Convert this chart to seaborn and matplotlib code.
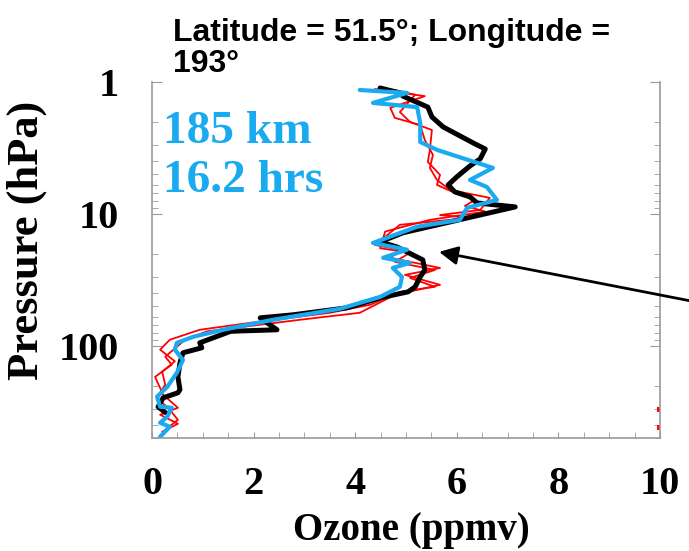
import numpy as np
import pandas as pd
import matplotlib
matplotlib.use('Agg')
import matplotlib.pyplot as plt
import matplotlib.ticker as mticker
import seaborn as sns

# ozone profiles (ppmv) against pressure (hPa)
black_p = [1.11, 1.21, 1.28, 1.55, 1.84, 2.19, 2.95, 3.22, 3.83, 4.33, 5.24, 6.03,
           6.81, 7.43, 8.26, 8.85, 13.9, 16.3, 17.8, 22.3, 26.6, 30.0, 35.7, 39.0,
           43.3, 51.5, 58.2, 61.4, 75.6, 77.6, 94.9, 103.5, 113, 135, 172, 215,
           227, 248, 290, 320]
black_o3 = [4.49, 4.88, 4.94, 5.43, 5.51, 5.73, 6.36, 6.56, 6.46, 6.26, 6.00, 5.83,
            5.96, 6.26, 6.40, 7.15, 4.94, 4.49, 4.82, 5.33, 5.37, 5.28, 5.18, 5.04,
            4.49, 3.84, 2.78, 2.13, 2.46, 1.55, 0.94, 0.98, 0.61, 0.55, 0.51, 0.55,
            0.51, 0.22, 0.12, 0.26]

blue_p = [1.15, 1.21, 1.44, 1.55, 2.05, 2.85, 3.27, 4.48, 5.53, 6.24, 7.83, 9.01,
          11.1, 12.5, 16.6, 18.7, 21.5, 23.5, 25.7, 30.0, 35.7, 42.6, 52.4, 63.5,
          75.6, 85.5, 94.9, 107, 128, 160, 205, 243, 290, 295, 345, 383, 411, 489]
blue_o3 = [4.09, 5.02, 4.35, 5.22, 5.28, 5.28, 5.61, 6.71, 6.26, 6.59, 6.79, 6.20,
           6.06, 5.22, 4.35, 5.02, 4.55, 5.08, 4.74, 4.92, 4.88, 4.49, 3.70, 2.38,
           1.40, 0.81, 0.49, 0.45, 0.61, 0.49, 0.30, 0.10, 0.16, 0.39, 0.30, 0.16,
           0.35, 0.16]

red1_p = [1.13, 1.28, 1.57, 1.87, 2.12, 2.75, 3.57, 4.48, 5.53, 6.58, 7.56, 9.33,
          10.2, 10.7, 12.1, 17.2, 18.7, 21.5, 25.7, 29.0, 34.5, 41.1, 56.2, 63.5,
          77.7, 90.1, 121, 139, 172, 235, 295, 333, 390, 448]
red1_o3 = [4.39, 5.37, 4.69, 4.78, 5.28, 5.37, 5.53, 5.47, 5.61, 5.87, 6.65, 6.46,
           5.67, 6.26, 4.88, 4.39, 4.88, 4.69, 5.67, 4.98, 5.67, 4.78, 4.09, 2.91,
           1.08, 0.65, 0.26, 0.39, 0.06, 0.22, 0.51, 0.16, 0.51, 0.20]

red2_p = [1.15, 1.25, 1.69, 2.01, 2.31, 3.27, 4.04, 5.06, 6.03, 6.92, 7.83, 8.7,
          9.6, 11.1, 13.6, 18.2, 19.7, 23.1, 26.6, 30.6, 35.7, 39.0, 48.9, 56.2,
          67, 75.6, 90, 107, 131, 157, 197, 248, 305, 364, 433]
red2_o3 = [4.78, 5.18, 4.88, 5.08, 5.51, 5.47, 5.43, 5.67, 5.61, 5.96, 6.36, 6.16,
           6.56, 5.47, 4.59, 4.49, 5.08, 4.78, 5.57, 5.08, 5.57, 4.88, 4.29, 3.50,
           1.93, 0.94, 0.35, 0.16, 0.45, 0.20, 0.26, 0.10, 0.35, 0.51, 0.26]

# red values running off the right edge
red_edge_p = [305, 418]
red_edge_o3 = [10.0, 10.0]

x_ticks = [0, 2, 4, 6, 8, 10]
y_ticks = [1, 10, 100]
arrow_tip = (5.65, 19.4)

blue = '#19aaf0'

sns.set_style('ticks')
plt.rcParams['font.family'] = ['Liberation Serif', 'DejaVu Serif']
plt.rcParams['font.weight'] = 'bold'
plt.rcParams['text.color'] = 'black'
plt.rcParams['axes.labelcolor'] = 'black'
plt.rcParams['xtick.labelcolor'] = 'black'
plt.rcParams['ytick.labelcolor'] = 'black'

fig = plt.figure(figsize=(6.89, 5.51), dpi=100)
ax = fig.add_axes([152 / 689, 113 / 551, 508 / 689, 356 / 551])

sns.lineplot(x=red1_o3, y=red1_p, sort=False, estimator=None, color='red', lw=1.3, ax=ax)
sns.lineplot(x=red2_o3, y=red2_p, sort=False, estimator=None, color='red', lw=1.3, ax=ax)
sns.scatterplot(x=red_edge_o3, y=red_edge_p, color='red', s=14, marker='s',
                edgecolor='none', ax=ax)
sns.lineplot(x=black_o3, y=black_p, sort=False, estimator=None, color='black', lw=3.6, ax=ax)
sns.lineplot(x=blue_o3, y=blue_p, sort=False, estimator=None, color=blue, lw=3.0, ax=ax)

ax.set_yscale('log')
ax.set_ylim(500, 1)
ax.set_xlim(0, 10)
ax.set_xticks(x_ticks)
ax.set_xticklabels([str(t) for t in x_ticks])
ax.xaxis.set_minor_locator(mticker.MultipleLocator(0.5))
ax.yaxis.set_major_locator(mticker.FixedLocator(y_ticks))
ax.yaxis.set_major_formatter(mticker.FuncFormatter(lambda v, pos: f'{v:g}'))
ax.yaxis.set_minor_locator(mticker.LogLocator(base=10, subs=np.arange(2, 10)))
ax.yaxis.set_minor_formatter(mticker.NullFormatter())

for side in ['left', 'right', 'bottom']:
    ax.spines[side].set_color('#9a9a9a')
    ax.spines[side].set_linewidth(1.2)
ax.spines['top'].set_visible(False)

ax.tick_params(axis='both', which='both', direction='in', color='#9a9a9a',
               labelsize=29, labelcolor='black')
ax.tick_params(axis='y', which='major', length=7, left=True, right=True, pad=24)
ax.tick_params(axis='y', which='minor', length=4, left=True, right=True)
ax.tick_params(axis='x', which='both', length=4, top=False, pad=20)

ax.set_xlabel('Ozone (ppmv)', fontsize=28, fontweight='bold')
ax.set_ylabel('Pressure (hPa)', fontsize=32, fontweight='bold')
ax.xaxis.set_label_coords(0.51, -0.208)
ax.yaxis.set_label_coords(-0.207, 0.556)

ax.text(0.022, 0.829, '185 km', transform=ax.transAxes, color=blue, fontsize=34,
        fontweight='bold', va='baseline', ha='left')
ax.text(0.022, 0.691, '16.2 hrs', transform=ax.transAxes, color=blue, fontsize=34,
        fontweight='bold', va='baseline', ha='left')

ax.annotate('', xy=arrow_tip, xytext=(1.01, 0.452), textcoords='figure fraction',
            arrowprops=dict(arrowstyle='-|>', color='black', lw=2, mutation_scale=28,
                            shrinkA=0, shrinkB=0), annotation_clip=False)

fig.text(173 / 689, 1 - 41 / 551, 'Latitude = 51.5°; Longitude =', family='Liberation Sans',
         fontweight='bold', fontsize=23, va='baseline', ha='left', color='black')
fig.text(173 / 689, 1 - 72 / 551, '193°', family='Liberation Sans',
         fontweight='bold', fontsize=23, va='baseline', ha='left', color='black')

fig.savefig('out.png', dpi=100)
